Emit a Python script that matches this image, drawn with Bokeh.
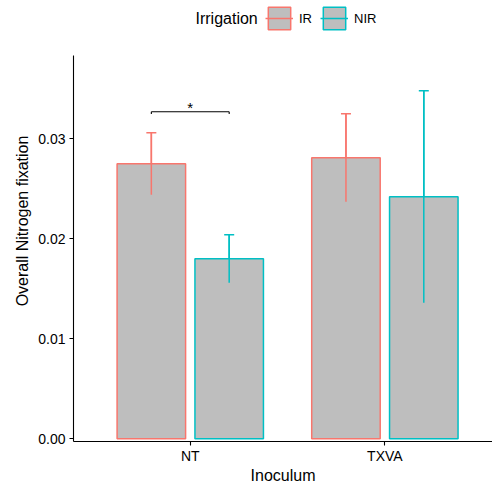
from bokeh.plotting import figure
from bokeh.models import (ColumnDataSource, Range1d, FixedTicker, NumeralTickFormatter,
                          Whisker, TeeHead, Legend, LegendItem, Label)
from bokeh.transform import dodge
from bokeh.core.properties import value
from bokeh.embed import file_html
from bokeh.resources import INLINE

# ---- data ----
inoculum = ["NT", "TXVA"]
irrigation = ["IR", "NIR"]
legend_title = "Irrigation"
ir_mean = [0.0275, 0.0281]
ir_err = [0.0031, 0.0044]
nir_mean = [0.0180, 0.0242]
nir_err = [0.0024, 0.0106]
group_colors = ["#F8766D", "#00BFC4"]
y_ticks = [0.00, 0.01, 0.02, 0.03]
signif_group = ["NT"]
signif_label = ["*"]
signif_y = [0.0327]

FONT = "Liberation Sans"
BAR_FILL = "#BEBEBE"
DODGE = 0.2
BAR_W = 0.352
Y_LO, Y_AXIS_TOP, Y_CANVAS_TOP = -0.00027, 0.0383, 0.04383

xs = [i + 1 for i in range(len(inoculum))]

p = figure(width=492, height=487, output_backend="svg", toolbar_location=None,
           x_range=Range1d(0.4, 2.553), y_range=Range1d(Y_LO, Y_CANVAS_TOP),
           min_border_left=73, min_border_right=0, min_border_top=0,
           min_border_bottom=46, background_fill_color="white",
           border_fill_color="white")
p.outline_line_color = None
p.xgrid.visible = False
p.ygrid.visible = False

groups = [(irrigation[0], ir_mean, ir_err, -DODGE, group_colors[0]),
          (irrigation[1], nir_mean, nir_err, DODGE, group_colors[1])]

sources = []
bars = []
for name, m, e, off, col in groups:
    src = ColumnDataSource(dict(x=xs, top=m,
                                upper=[a + b for a, b in zip(m, e)],
                                lower=[a - b for a, b in zip(m, e)]))
    sources.append(src)
    r = p.vbar(x=dodge("x", off), top="top", bottom=0, width=BAR_W, source=src,
               fill_color=BAR_FILL, line_color=col, line_width=1.5)
    bars.append(r)

stems = []
for (name, m, e, off, col), src in zip(groups, sources):
    s = p.segment(x0=dodge("x", off), y0="lower", x1=dodge("x", off), y1="upper",
                  source=src, line_color=col, line_width=1.5)
    stems.append(s)
    w = Whisker(base=dodge("x", off), upper="upper", lower="lower", source=src,
                dimension="height", line_color=col, line_width=1.5,
                upper_head=TeeHead(size=10, line_color=col, line_width=1.5),
                lower_head=TeeHead(size=10, line_color=col, line_width=1.5))
    p.add_layout(w)

# significance bracket
sig_src = ColumnDataSource(dict(x=[xs[inoculum.index(g)] for g in signif_group],
                                y=signif_y, label=signif_label,
                                ytip=[v - 0.00022 for v in signif_y]))
p.segment(x0=dodge("x", -DODGE), x1=dodge("x", DODGE), y0="y", y1="y",
          source=sig_src, line_color="black", line_width=1.1)
p.segment(x0=dodge("x", -DODGE), x1=dodge("x", -DODGE), y0="y", y1="ytip",
          source=sig_src, line_color="black", line_width=1.1)
p.segment(x0=dodge("x", DODGE), x1=dodge("x", DODGE), y0="y", y1="ytip",
          source=sig_src, line_color="black", line_width=1.1)
p.text(x="x", y="y", text="label", source=sig_src, text_align="center",
       text_baseline="alphabetic", y_offset=-4.5, text_font=value(FONT),
       text_font_size="15px", text_color="black")

# axes
p.xaxis.ticker = FixedTicker(ticks=xs)
p.xaxis.major_label_overrides = {x: lab for x, lab in zip(xs, inoculum)}
p.yaxis.ticker = FixedTicker(ticks=y_ticks)
p.yaxis.formatter = NumeralTickFormatter(format="0.00")
p.yaxis.bounds = (Y_LO, Y_AXIS_TOP)
p.xaxis.axis_label = "Inoculum"
p.yaxis.axis_label = "Overall Nitrogen fixation"
for ax in (p.xaxis, p.yaxis):
    ax.axis_line_color = "black"
    ax.axis_line_width = 1.1
    ax.major_tick_line_color = "black"
    ax.major_tick_line_width = 1.1
    ax.major_tick_out = 4
    ax.major_tick_in = 0
    ax.minor_tick_line_color = None
    ax.major_label_text_font = FONT
    ax.major_label_text_font_size = "14px"
    ax.major_label_text_color = "black"
    ax.axis_label_text_font = FONT
    ax.axis_label_text_font_size = "16px"
    ax.axis_label_text_font_style = "normal"
    ax.axis_label_text_color = "black"
p.xaxis.major_label_standoff = 2
p.xaxis.axis_label_standoff = 0
p.yaxis.major_label_standoff = 4
p.yaxis.axis_label_standoff = 4

legend = Legend(items=[LegendItem(label=irrigation[i], renderers=[bars[i], stems[i]])
                       for i in range(len(irrigation))],
                orientation="horizontal", location=(192, 409),
                label_text_font=FONT, label_text_font_size="13px",
                label_text_color="black", label_standoff=6, label_width=10,
                spacing=8, glyph_width=28, glyph_height=28, padding=0, margin=0,
                border_line_alpha=0, background_fill_alpha=0)
p.add_layout(legend, "center")

p.add_layout(Label(x=122, y=423.5, x_units="screen", y_units="screen",
                   text=legend_title, text_font=FONT, text_font_size="16px",
                   text_color="black", text_baseline="middle", text_align="left"))

open("out.html", "w").write(file_html(p, INLINE))
